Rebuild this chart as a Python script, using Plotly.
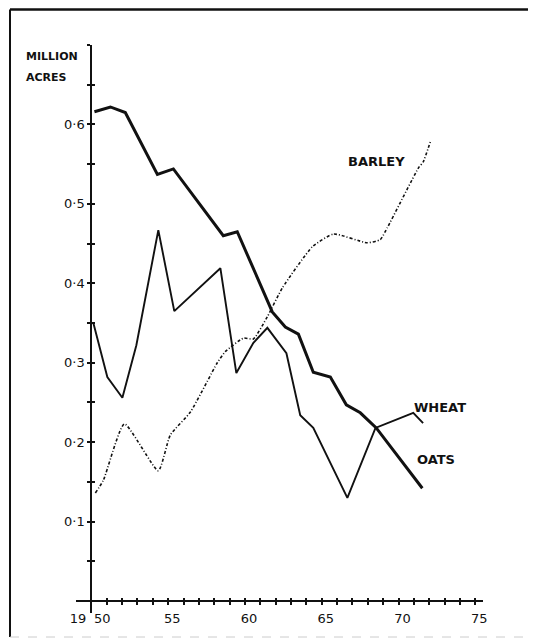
import plotly.graph_objects as go

# ---------------- data ----------------
oats_years = [1950.2, 1951.24, 1952.21, 1954.3, 1955.34, 1958.59, 1959.5, 1961.78,
              1962.63, 1963.48, 1964.45, 1965.56, 1966.6, 1967.51, 1968.55, 1971.55]
oats_acres = [0.616, 0.622, 0.615, 0.537, 0.544, 0.460, 0.465, 0.364,
              0.345, 0.336, 0.288, 0.282, 0.247, 0.237, 0.218, 0.142]

wheat_years = [1950.13, 1951.04, 1952.02, 1952.93, 1954.36, 1955.4, 1958.4, 1959.44,
               1960.55, 1961.46, 1962.7, 1963.6, 1964.45, 1966.67, 1968.5, 1970.96, 1971.6]
wheat_acres = [0.350, 0.282, 0.256, 0.322, 0.467, 0.365, 0.419, 0.287,
               0.325, 0.344, 0.312, 0.234, 0.218, 0.130, 0.218, 0.237, 0.224]

barley_years = [1950.26, 1950.78, 1952.15, 1954.36, 1955.14, 1956.45, 1958.2, 1958.72,
                1959.9, 1960.55, 1961.46, 1962.43, 1964.39, 1965.76, 1967.97, 1968.81,
                1969.27, 1971.29, 1971.61, 1972.07]
barley_acres = [0.136, 0.152, 0.223, 0.164, 0.209, 0.238, 0.300, 0.314,
                0.331, 0.330, 0.358, 0.394, 0.446, 0.462, 0.451, 0.455,
                0.470, 0.545, 0.553, 0.578]

x_tick_years = list(range(1950, 1976))
x_tick_text = ["19\u2002\u200a50\u2002\u2009\u200a" if y == 1950
               else (str(y)[2:] if y % 5 == 0 else "")
               for y in x_tick_years]
y_tick_vals = [0.05, 0.1, 0.15, 0.2, 0.25, 0.3, 0.35, 0.4, 0.45, 0.5, 0.55, 0.6, 0.65, 0.7]
y_tick_text = ["", "0·1", "", "0·2", "", "0·3", "", "0·4", "", "0·5", "", "0·6", "", ""]

series_labels = [("BARLEY", 1968.55, 0.553), ("WHEAT", 1972.7, 0.244), ("OATS", 1972.45, 0.178)]

# ---------------- layout constants ----------------
X_RANGE = [1949, 1975.5]
Y_RANGE = [-0.015, 0.7]
INK = "#111111"
FONT = "DejaVu Sans"

# page has an 8px body margin: figure is made 8px smaller and shifted accordingly
FIG_W, FIG_H = 528, 634
M_L, M_T, PLOT_W, PLOT_H = 68, 37, 407, 568
M_R = FIG_W - M_L - PLOT_W
M_B = FIG_H - M_T - PLOT_H

x_axis_pos = (0 - Y_RANGE[0]) / (Y_RANGE[1] - Y_RANGE[0])
y_axis_pos = (1950 - X_RANGE[0]) / (X_RANGE[1] - X_RANGE[0])

fig = go.Figure()

fig.add_trace(go.Scatter(x=barley_years, y=barley_acres, mode="lines",
                         line=dict(color=INK, width=1.6, dash="3px,2px,1px,2px",
                                   shape="spline", smoothing=0.5),
                         hoverinfo="skip", showlegend=False))
fig.add_trace(go.Scatter(x=wheat_years, y=wheat_acres, mode="lines",
                         line=dict(color=INK, width=1.9),
                         hoverinfo="skip", showlegend=False))
fig.add_trace(go.Scatter(x=oats_years, y=oats_acres, mode="lines",
                         line=dict(color=INK, width=3),
                         hoverinfo="skip", showlegend=False))
# helper trace for the inside half of the cross ticks
fig.add_trace(go.Scatter(x=[None], y=[None], xaxis="x2", yaxis="y2",
                         hoverinfo="skip", showlegend=False))

axis_common = dict(showgrid=False, zeroline=False, color=INK)

fig.update_layout(
    width=FIG_W, height=FIG_H,
    paper_bgcolor="white", plot_bgcolor="white",
    margin=dict(l=M_L, r=M_R, t=M_T, b=M_B),
    font=dict(family=FONT, color=INK),
    xaxis=dict(range=X_RANGE, anchor="free", position=x_axis_pos,
               showline=True, linewidth=2, linecolor=INK,
               tickmode="array", tickvals=x_tick_years, ticktext=x_tick_text,
               ticks="outside", ticklen=3, tickwidth=1.5, tickcolor=INK,
               ticklabelshift=4, ticklabelstandoff=2,
               tickfont=dict(size=13, family=FONT, color=INK), **axis_common),
    yaxis=dict(range=Y_RANGE, anchor="free", position=y_axis_pos,
               showline=True, linewidth=2, linecolor=INK,
               tickmode="array", tickvals=y_tick_vals, ticktext=y_tick_text,
               ticks="outside", ticklen=3, tickwidth=1.5, tickcolor=INK,
               tickfont=dict(size=13, family=FONT, color=INK), **axis_common),
    xaxis2=dict(overlaying="x", matches="x", anchor="free", position=x_axis_pos,
                showline=False, tickmode="array", tickvals=x_tick_years,
                ticks="inside", ticklen=3, tickwidth=1.5, tickcolor=INK,
                showticklabels=False, **axis_common),
    yaxis2=dict(overlaying="y", matches="y", anchor="free", position=y_axis_pos,
                showline=False, tickmode="array", tickvals=y_tick_vals,
                ticks="inside", ticklen=3, tickwidth=1.5, tickcolor=INK,
                showticklabels=False, **axis_common),
)

for text, xv, yv in series_labels:
    fig.add_annotation(x=xv, y=yv, text=f"<b>{text}</b>", showarrow=False,
                       xanchor="center", yanchor="middle",
                       font=dict(size=13, family=FONT, color=INK))

label_x = (16 - M_L) / PLOT_W
fig.add_annotation(xref="paper", yref="y", x=label_x, y=0.685, text="<b>MILLION</b>",
                   showarrow=False, xanchor="left", yanchor="middle",
                   font=dict(size=11, family=FONT, color=INK))
fig.add_annotation(xref="paper", yref="y", x=label_x, y=0.659, text="<b>ACRES</b>",
                   showarrow=False, xanchor="left", yanchor="middle",
                   font=dict(size=11, family=FONT, color=INK))

# frame around the figure (paper coordinates, figure pixels)
def px_x(p):
    return (p - M_L) / PLOT_W

def px_y(p):
    return (M_T + PLOT_H - p) / PLOT_H

left, right = px_x(2), px_x(523)
top, bottom = px_y(1.5), px_y(629)
fig.add_shape(type="line", xref="paper", yref="paper", x0=left, x1=right, y0=top, y1=top,
              line=dict(color=INK, width=2.5))
fig.add_shape(type="line", xref="paper", yref="paper", x0=left, x1=left, y0=top, y1=bottom,
              line=dict(color=INK, width=2))
fig.add_shape(type="line", xref="paper", yref="paper", x0=right, x1=right, y0=top, y1=bottom,
              line=dict(color=INK, width=1.5))
fig.add_shape(type="line", xref="paper", yref="paper", x0=left, x1=right, y0=bottom, y1=bottom,
              line=dict(color="#cccccc", width=1, dash="dash"))

fig.write_html("out.html")
